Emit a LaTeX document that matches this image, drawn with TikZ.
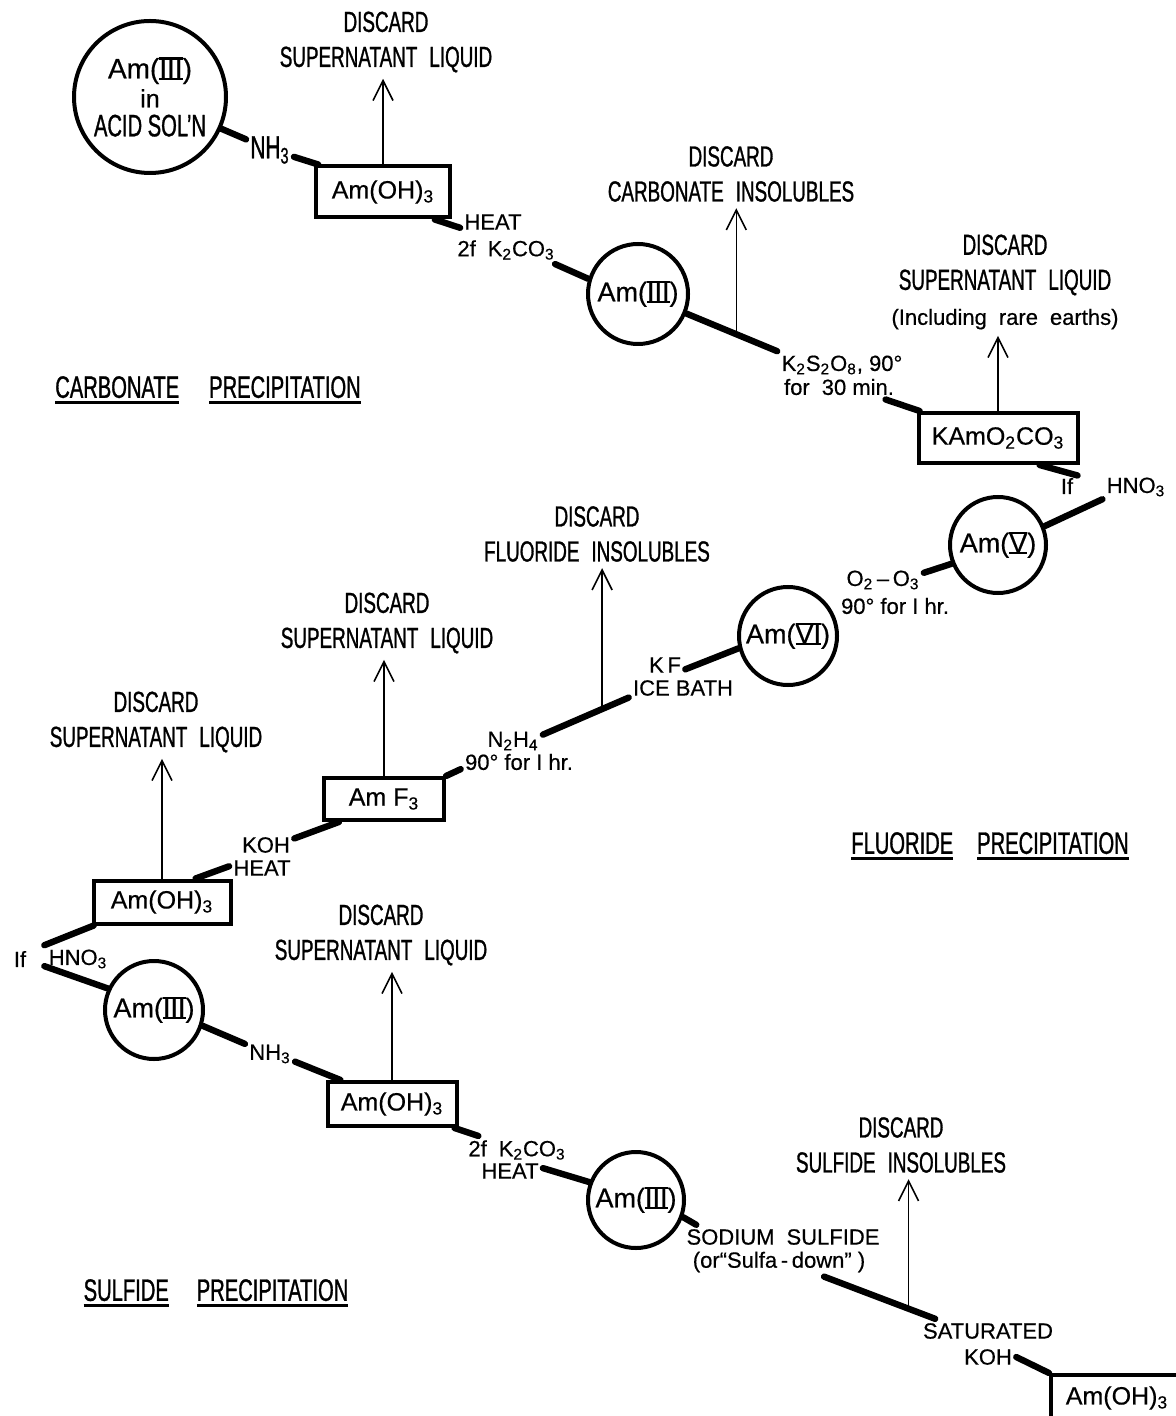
\documentclass[tikz,border=0pt]{standalone}
\usepackage{fontspec}
\setmainfont{Liberation Sans}[FakeBold=0.5]
\newfontfamily\condfont{Liberation Sans}[FakeStretch=0.65, FakeBold=1]
\usetikzlibrary{arrows.meta}
\newcommand{\rnum}[1]{\setbox0\hbox{#1}\rlap{\rule[-0.06em]{\wd0}{0.08em}}\rlap{\rule[\dimexpr\ht0-0.02em\relax]{\wd0}{0.08em}}\box0}
\newcommand{\ulword}[1]{\setbox0\hbox{#1}\rlap{\rule[-3pt]{\wd0}{1.2pt}}\box0}
\newcommand{\wgap}{\hspace{6pt}}
\tikzstyle{species} = [circle, draw, line width=2pt, inner sep=0pt, minimum size=49pt, font=\fontsize{13.5}{15}\selectfont]
\tikzstyle{precip} = [rectangle, draw, line width=2pt, inner sep=0pt, font=\fontsize{12.5}{15}\selectfont]
\tikzstyle{reagent} = [inner sep=2pt, font=\fontsize{11}{13}\selectfont]
\tikzstyle{discard} = [align=center, inner sep=3pt, font=\condfont\fontsize{14.5}{17.5}\selectfont]
\tikzstyle{heading} = [font=\condfont\fontsize{15.5}{18}\selectfont]
\tikzstyle{link} = [line width=3.2pt, line cap=round]
\tikzstyle{arrow} = [line width=0.8pt, -{Straight Barb[length=10pt,width=10pt]}]

\begin{document}
\begin{tikzpicture}[x=0.5pt, y=-0.5pt]
        \useasboundingbox (0,0) rectangle (1175,1416);

        \node [species, minimum size=76pt, align=center, font=\fontsize{14}{14.5}\selectfont] (acid) at (150,97) {Am(\rnum{III})\\{\fontsize{12.5}{14.5}\selectfont in}\\{\condfont\fontsize{15.5}{14.5}\selectfont ACID SOL’N}};
        \node [reagent, font=\condfont\fontsize{16}{18}\selectfont] (nh3a) at (270,150) {NH\textsubscript{3}};
        \node [precip, minimum width=67pt, minimum height=25.5pt] (hyd1) at (383,192) {Am(OH)\textsubscript{3}};
        \node [discard] (disc1) at (386,42) {DISCARD\\SUPERNATANT\wgap LIQUID};
        \node [reagent] (heat1) at (493,222) {HEAT};
        \node [reagent] (kco1) at (506,250) {2f\wgap K\textsubscript{2}CO\textsubscript{3}};
        \node [species, minimum size=50pt] (am3a) at (638,294) {Am(\rnum{III})};
        \node [discard] (disc2) at (731,174) {DISCARD\\CARBONATE\wgap INSOLUBLES};
        \node [reagent] (k2s) at (842,365) {K\textsubscript{2}S\textsubscript{2}O\textsubscript{8}, 90°};
        \node [reagent] (time0) at (839,387) {for\wgap 30 min.};
        \node [precip, minimum width=79.5pt, minimum height=25pt] (kamo) at (998,438) {KAmO\textsubscript{2}CO\textsubscript{3}};
        \node [discard] (disc3) at (1005,282) {DISCARD\\SUPERNATANT\wgap LIQUID\\{\normalfont\fontsize{11}{13}\selectfont (Including\wgap rare\wgap earths)}};
        \node [reagent] (if1) at (1067,486) {If};
        \node [reagent] (hno3a) at (1136,487) {HNO\textsubscript{3}};
        \node [heading] (carb) at (208,390) {\ulword{CARBONATE}\hspace{15pt}\ulword{PRECIPITATION}};

        \node [species, minimum size=48pt] (am5) at (998,545) {Am(\rnum{V})};
        \node [reagent] (o2o3) at (883,580) {O\textsubscript{2}\,--\,O\textsubscript{3}};
        \node [reagent] (time1) at (895,606) {90° for I hr.};
        \node [species, minimum size=49pt] (am6) at (788,636) {Am(\rnum{VI})};
        \node [reagent] (kf) at (665,665) {K\,F};
        \node [reagent] (ice) at (683,688) {ICE BATH};
        \node [discard] (disc4) at (597,534) {DISCARD\\FLUORIDE\wgap INSOLUBLES};
        \node [reagent] (n2h4) at (513,741) {N\textsubscript{2}H\textsubscript{4}};
        \node [reagent] (time2) at (519,762) {90° for I hr.};
        \node [precip, minimum width=60pt, minimum height=21pt] (amf3) at (384,799) {Am F\textsubscript{3}};
        \node [discard] (disc5) at (387,623) {DISCARD\\SUPERNATANT\wgap LIQUID};
        \node [reagent] (koh1) at (266,845) {KOH};
        \node [reagent] (heat2) at (262,868) {HEAT};
        \node [precip, minimum width=68.5pt, minimum height=21.5pt] (hyd2) at (162,902) {Am(OH)\textsubscript{3}};
        \node [discard] (disc6) at (156,722) {DISCARD\\SUPERNATANT\wgap LIQUID};
        \node [heading] (fluor) at (990,846) {\ulword{FLUORIDE}\hspace{12pt}\ulword{PRECIPITATION}};

        \node [reagent] (if2) at (20,959) {If};
        \node [reagent] (hno3b) at (78,959) {HNO\textsubscript{3}};
        \node [species, minimum size=49pt] (am3b) at (154,1010) {Am(\rnum{III})};
        \node [reagent] (nh3b) at (270,1054) {NH\textsubscript{3}};
        \node [precip, minimum width=64.5pt, minimum height=22pt] (hyd3) at (392,1104) {Am(OH)\textsubscript{3}};
        \node [discard] (disc7) at (381,935) {DISCARD\\SUPERNATANT\wgap LIQUID};
        \node [reagent] (kco2) at (517,1150) {2f\wgap K\textsubscript{2}CO\textsubscript{3}};
        \node [reagent] (heat3) at (510,1171) {HEAT};
        \node [species, minimum size=48pt] (am3c) at (636,1200) {Am(\rnum{III})};
        \node [reagent] (sodium) at (783,1237) {SODIUM\wgap SULFIDE};
        \node [reagent] (sulfa) at (779,1262) {(or“Sulfa\,-\,down”\ )};
        \node [discard] (disc8) at (901,1145) {DISCARD\\SULFIDE\wgap INSOLUBLES};
        \node [reagent] (sat) at (988,1331) {SATURATED};
        \node [reagent] (koh2) at (988,1357) {KOH};
        \node [precip, minimum width=66pt, minimum height=23pt] (hyd4) at (1117,1398) {Am(OH)\textsubscript{3}};
        \node [heading] (sulf) at (216,1293) {\ulword{SULFIDE}\hspace{14pt}\ulword{PRECIPITATION}};

        \draw [link] (acid.-24) -- (nh3a.156);
        \draw [link] (nh3a.-16) -- (hyd1.157);
        \draw [arrow] (hyd1.north) -- (hyd1.north |- disc1.south);
        \draw [link] (hyd1.-28) -- (heat1.190);
        \draw [link] (kco1.-16) -- (am3a.163);
        \draw [link] (am3a.-22) -- coordinate[pos=0.55] (c1) (k2s.168);
        \draw [arrow] (c1) -- (c1 |- disc2.south);
        \draw [link] (time0.-15) -- (kamo.161);
        \draw [arrow] (kamo.north) -- (kamo.north |- disc3.south);
        \draw [link] (kamo.-33) -- (if1.45);
        \draw [link] (hno3a.200) -- (am5.22);

        \draw [link] (am5.202) -- (o2o3.10);
        \draw [link] (am6.194) -- (kf.-12);
        \draw [link] (ice.190) -- coordinate[pos=0.31] (c2) (n2h4.12);
        \draw [arrow] (c2) -- (c2 |- disc4.south);
        \draw [link] (time2.187) -- (amf3.north east);
        \draw [arrow] (amf3.north) -- (amf3.north |- disc5.south);
        \draw [link] (amf3.207) -- (koh1.13);
        \draw [link] (heat2.177) -- (hyd2.35);
        \draw [arrow] (hyd2.north) -- (hyd2.north |- disc6.south);

        \draw [link] (hyd2.199) -- (hno3b.north west);
        \draw [link] (hno3b.192) -- (am3b.155);
        \draw [link] (am3b.-18) -- (nh3b.158);
        \draw [link] (nh3b.-17) -- (hyd3.155);
        \draw [arrow] (hyd3.north) -- (hyd3.north |- disc7.south);
        \draw [link] (hyd3.-21) -- (kco2.160);
        \draw [link] (heat3.5) -- (am3c.159);
        \draw [link] (am3c.-20) -- (sodium.172);
        \draw [link] (sulfa.-18) -- coordinate[pos=0.76] (c3) (sat.167);
        \draw [arrow] (c3) -- (c3 |- disc8.south);
        \draw [link] (koh2.0) -- (hyd4.north west);
\end{tikzpicture}
\end{document}
